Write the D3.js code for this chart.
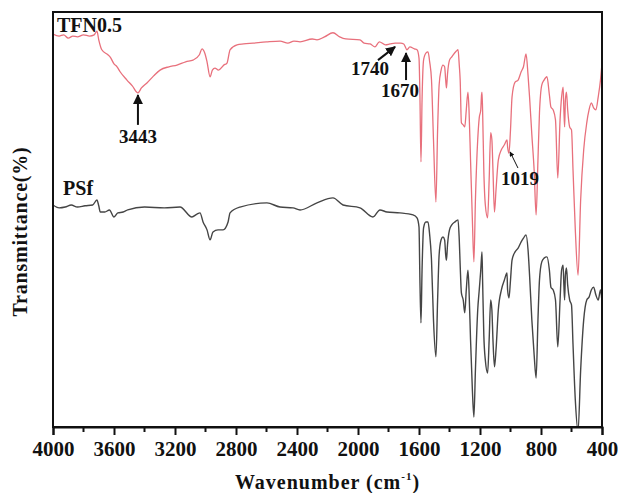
<!DOCTYPE html>
<html>
<head>
<meta charset="utf-8">
<script src="https://cdn.jsdelivr.net/npm/d3@7"></script>
<style>
  body { margin: 0; background: #fff; }
  svg text { font-family: "Liberation Serif", "Times New Roman", serif; font-weight: bold; fill: #111; }
</style>
</head>
<body>
<svg id="viz"></svg>
<script>
let width = 618;
let height = 493;
let margin = { top: 12, right: 16, bottom: 66, left: 53 };

let redColor = "#e8707c";
let blackColor = "#454545";

// wavenumber (cm-1), transmittance (offset, a.u.)
let tfnWave = [4000,3960,3930,3900,3870,3840,3800,3760,3730,3712,3700,3680,3640,3626,3600,3580,3560,3515,3480,3443,3420,3384,3340,3298,3240,3187,3130,3082,3040,3023,3005,2990,2970,2955,2938,2915,2880,2859,2839,2793,2750,2688,2600,2511,2460,2420,2380,2300,2269,2220,2164,2120,2080,1987,1960,1920,1889,1860,1820,1790,1757,1720,1700,1679,1660,1630,1613,1600,1594,1587,1580,1570,1555,1541,1530,1518,1505,1489,1478,1468,1455,1443,1432,1425,1420,1413,1400,1385,1355,1344,1336,1330,1322,1310,1300,1290,1279,1272,1262,1250,1240,1230,1215,1205,1195,1190,1187,1183,1175,1165,1150,1140,1130,1122,1115,1105,1095,1080,1060,1040,1023,1019,1010,1000,990,970,950,930,915,898,885,875,860,845,832,820,810,795,780,761,745,735,720,705,690,675,665,655,650,645,640,633,625,612,600,590,575,557,540,520,500,485,470,455,440,425,410,400];
let tfnT = [94.7,94.2,94.5,93.7,94.2,94.0,94.5,94.2,94.5,95.4,93.3,90.9,89.7,89.2,87.5,86.8,85.6,83.6,82.2,80.5,81.7,82.9,84.6,86.0,86.8,87.2,88.0,88.4,89.7,91.1,90.1,88.0,84.4,86.0,86.5,86.0,87.2,87.7,90.9,92.1,92.3,92.5,92.8,93.0,92.5,93.0,92.8,93.5,93.3,94.0,95.0,94.0,93.5,93.3,92.5,92.3,91.6,92.8,92.1,92.3,92.5,92.5,92.3,90.9,91.6,91.1,90.9,88.9,80.0,63.9,78.8,88.4,90.1,90.4,88.0,83.6,69.2,54.2,71.6,82.4,86.0,87.2,86.8,83.6,81.7,85.1,88.4,89.2,90.6,90.9,87.2,83.6,73.3,72.8,72.3,76.4,80.7,76.4,64.3,49.9,39.8,54.7,69.2,74.5,76.4,80.0,80.7,76.4,61.9,53.5,50.4,59.5,70.9,69.2,61.9,51.8,57.1,64.3,66.8,68.0,69.2,67.5,66.0,71.6,79.5,83.1,83.6,85.6,86.8,89.9,84.8,79.5,70.4,61.9,51.1,64.3,75.7,82.4,83.6,84.4,80.0,77.1,76.4,74.0,60.0,74.0,79.5,81.9,76.4,72.3,78.8,80.7,76.4,72.3,71.6,61.9,47.5,36.6,54.7,66.8,73.3,76.4,78.1,76.9,76.4,79.5,83.6,87.7];

let psfWave = [4000,3960,3920,3880,3840,3790,3740,3712,3700,3690,3660,3630,3600,3575,3540,3510,3400,3270,3167,3089,3056,3036,3016,2990,2970,2951,2918,2885,2852,2839,2774,2597,2511,2426,2380,2269,2164,2098,1987,1902,1856,1810,1725,1639,1613,1600,1594,1587,1580,1570,1555,1541,1530,1518,1505,1489,1478,1468,1455,1443,1432,1425,1420,1413,1400,1385,1365,1344,1336,1330,1322,1310,1300,1290,1279,1272,1262,1250,1240,1230,1215,1205,1195,1187,1183,1175,1165,1150,1140,1130,1122,1115,1105,1095,1080,1060,1040,1023,1019,1010,1000,990,970,950,930,915,898,885,875,860,845,832,820,810,795,780,761,745,735,720,705,690,675,665,655,650,645,640,633,625,612,600,590,575,557,540,520,500,485,470,455,440,425,410,400];
let psfT = [53.5,52.8,53.0,53.5,53.0,53.3,53.5,54.7,53.3,51.8,51.8,52.3,50.6,51.6,51.8,52.3,53.0,52.8,53.0,50.6,51.3,51.6,49.4,47.5,45.1,47.0,47.5,47.5,49.4,51.6,53.0,54.0,53.0,52.8,52.3,54.0,55.2,53.5,52.8,50.6,52.3,51.8,51.6,51.1,50.4,48.2,35.4,25.1,37.8,48.0,49.4,49.4,46.3,40.2,25.8,16.9,30.6,41.5,45.1,45.8,45.1,41.5,40.2,43.9,47.5,48.7,49.4,49.9,45.1,39.0,32.3,30.6,27.5,33.0,37.8,33.0,21.0,8.9,2.4,13.7,28.2,33.0,37.8,42.2,35.4,22.2,16.1,13.0,21.0,30.6,28.2,21.0,14.5,18.6,28.2,33.0,35.4,37.1,33.0,31.1,35.4,40.2,42.2,43.1,44.6,45.5,46.3,42.7,36.6,25.8,17.4,11.8,25.8,35.4,39.8,40.7,41.0,37.8,33.7,33.0,30.6,19.3,30.6,37.8,39.0,34.2,30.6,36.6,38.3,34.2,30.6,29.4,19.8,6.5,-1,13.7,25.8,30.6,31.3,33.0,33.7,31.8,30.6,33.0,30.1];

let xTicks = [4000, 3600, 3200, 2800, 2400, 2000, 1600, 1200, 800, 400];
let xMinorTicks = [3800, 3400, 3000, 2600, 2200, 1800, 1400, 1000, 600];

let peakLabels = ["3443", "1740", "1670", "1019"];

let svg = d3.select("#viz")
    .attr("width", width)
    .attr("height", height);

let x = d3.scaleLinear()
    .domain([4000, 400])
    .range([margin.left, width - margin.right]);

let y = d3.scaleLinear()
    .domain([0, 100])
    .range([height - margin.bottom, margin.top]);

svg.append("defs").append("clipPath")
    .attr("id", "plotClip")
    .append("rect")
    .attr("x", margin.left)
    .attr("y", margin.top)
    .attr("width", width - margin.left - margin.right)
    .attr("height", height - margin.top - margin.bottom);

svg.select("defs").append("marker")
    .attr("id", "arrow")
    .attr("viewBox", "0 0 10 10")
    .attr("refX", 9)
    .attr("refY", 5)
    .attr("markerWidth", 5)
    .attr("markerHeight", 5)
    .attr("orient", "auto")
    .append("path")
    .attr("d", "M0,0 L10,5 L0,10 z")
    .attr("fill", "#111");

// pixel x increases as wavenumber drops, so monotone smoothing is safe here
let line = d3.line()
    .x(d => x(d[0]))
    .y(d => y(d[1]))
    .curve(d3.curveMonotoneX);

let plot = svg.append("g").attr("clip-path", "url(#plotClip)");

plot.append("path")
    .datum(d3.zip(psfWave, psfT))
    .attr("d", line)
    .attr("fill", "none")
    .attr("stroke", blackColor)
    .attr("stroke-width", 1.4)
    .attr("stroke-linejoin", "round");

plot.append("path")
    .datum(d3.zip(tfnWave, tfnT))
    .attr("d", line)
    .attr("fill", "none")
    .attr("stroke", redColor)
    .attr("stroke-width", 1.3)
    .attr("stroke-linejoin", "round");

// frame
svg.append("rect")
    .attr("x", margin.left)
    .attr("y", margin.top)
    .attr("width", width - margin.left - margin.right)
    .attr("height", height - margin.top - margin.bottom)
    .attr("fill", "none")
    .attr("stroke", "#111")
    .attr("stroke-width", 2);

// x axis
let xAxis = svg.append("g")
    .attr("transform", `translate(0,${height - margin.bottom})`)
    .call(d3.axisBottom(x).tickValues(xTicks).tickSize(8).tickPadding(6).tickFormat(d3.format("d")));
xAxis.select(".domain").attr("stroke-width", 2).attr("stroke", "#111");
xAxis.selectAll(".tick line").attr("stroke-width", 2).attr("stroke", "#111");
xAxis.selectAll(".tick text")
    .style("font-size", "21px")
    .style("font-family", "'Liberation Serif', 'Times New Roman', serif")
    .style("font-weight", "bold")
    .attr("fill", "#111");

svg.append("g")
    .selectAll("line")
    .data(xMinorTicks)
    .enter()
    .append("line")
    .attr("x1", d => x(d))
    .attr("x2", d => x(d))
    .attr("y1", height - margin.bottom)
    .attr("y2", height - margin.bottom + 5)
    .attr("stroke", "#111")
    .attr("stroke-width", 2);

// axis titles
let xTitle = svg.append("text")
    .attr("x", (margin.left + width - margin.right) / 2)
    .attr("y", 489)
    .attr("text-anchor", "middle")
    .style("font-size", "20px")
    .style("letter-spacing", "1px");
xTitle.append("tspan").text("Wavenumber (cm");
xTitle.append("tspan").attr("dy", -9).style("font-size", "11px").text("-1");
xTitle.append("tspan").attr("dy", 9).text(")");

svg.append("text")
    .attr("transform", `translate(27,${(margin.top + height - margin.bottom) / 2 + 12}) rotate(-90)`)
    .attr("text-anchor", "middle")
    .style("font-size", "20px")
    .style("letter-spacing", "0.8px")
    .text("Transmittance(%)");

// series labels
svg.append("text")
    .attr("x", x(3974))
    .attr("y", y(95.2))
    .style("font-size", "20px")
    .text("TFN0.5");

svg.append("text")
    .attr("x", x(3934))
    .attr("y", y(55.9))
    .style("font-size", "20px")
    .text("PSf");

// peak annotations
let annoText = [[3443, 68.4], [1921, 84.8], [1725, 79.5], [938, 58.3]];
let annoArrow = [
    [[3443, 72.8], [3443, 80.0]],
    [[1869, 88.4], [1757, 91.6]],
    [[1685, 83.6], [1685, 90.1]],
    [[951, 62.4], [1003, 66.3]]
];

svg.append("g")
    .selectAll("text")
    .data(peakLabels)
    .enter()
    .append("text")
    .attr("x", (d, i) => x(annoText[i][0]))
    .attr("y", (d, i) => y(annoText[i][1]))
    .attr("text-anchor", "middle")
    .style("font-size", "19px")
    .text(d => d);

svg.append("g")
    .selectAll("line")
    .data(annoArrow)
    .enter()
    .append("line")
    .attr("x1", d => x(d[0][0]))
    .attr("y1", d => y(d[0][1]))
    .attr("x2", d => x(d[1][0]))
    .attr("y2", d => y(d[1][1]))
    .attr("stroke", "#111")
    .attr("stroke-width", (d, i) => i == 3 ? 1 : 2)
    .attr("marker-end", "url(#arrow)");
</script>
</body>
</html>
